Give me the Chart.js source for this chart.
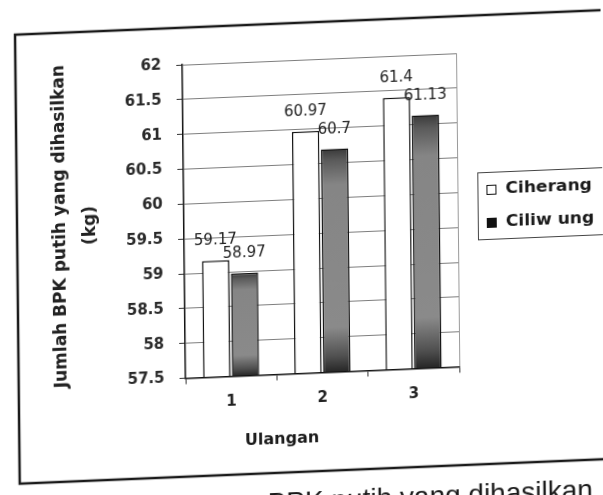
<!DOCTYPE html>
<html><head><meta charset="utf-8">
<script src="https://cdn.jsdelivr.net/npm/chart.js@4.4.1/dist/chart.umd.min.js"></script>
<style>
html,body{margin:0;padding:0;background:#fff;overflow:hidden;width:603px;height:495px;}
#wrap{position:absolute;left:0;top:0;width:603px;height:495px;transform-origin:320px 220px;transform:rotate(-0.6deg) skewY(-1.8deg);}
#c{position:absolute;left:0;top:0;}
#caption{position:absolute;right:13px;top:485px;font-family:'Liberation Sans',Arial,sans-serif;font-size:28px;color:#1a1a1a;white-space:nowrap;line-height:normal;}
</style></head><body>
<div id="wrap"><canvas id="c" width="603" height="495"></canvas><div id="caption"></div></div>
<script>
const categories = ['1', '2', '3'];
const seriesNames = ['Ciherang', 'Ciliw ung'];
const ciherang = [59.17, 60.97, 61.4];
const ciliwung = [58.97, 60.7, 61.13];
const yTicks = [57.5, 58, 58.5, 59, 59.5, 60, 60.5, 61, 61.5, 62];
const yTickLabels = ['57.5', '58', '58.5', '59', '59.5', '60', '60.5', '61', '61.5', '62'];
const yTitle = ['Jumlah BPK putih yang dihasilkan', '(kg)'];
const xTitle = 'Ulangan';
const captionText = 'BPK putih yang dihasilkan';

document.getElementById('caption').textContent = captionText;

function darkFill(ctx) {
  const chart = ctx.chart, area = chart.chartArea, y = chart.scales && chart.scales.y;
  if (!area || !y || ctx.type !== 'data') return '#707070';
  const top = y.getPixelForValue(ctx.raw), bot = y.getPixelForValue(yTicks[0]);
  if (!isFinite(top) || !isFinite(bot) || bot <= top) return '#707070';
  const g = chart.ctx.createLinearGradient(0, top, 0, bot);
  g.addColorStop(0, '#3a3a3a');
  g.addColorStop(0.05, '#5a5a5a');
  g.addColorStop(0.16, '#858585');
  g.addColorStop(0.8, '#8a8a8a');
  g.addColorStop(0.93, '#505050');
  g.addColorStop(1, '#262626');
  return g;
}

const framePlugin = {
  id: 'frame',
  beforeDraw(chart) {
    const c = chart.ctx;
    c.save();
    c.fillStyle = '#fff';
    c.fillRect(0, 0, chart.width, chart.height);
    c.strokeStyle = '#1a1a1a';
    c.lineWidth = 2.5;
    c.strokeRect(17, 22, 700, 449);
    c.restore();
  }
};

const plotBorder = {
  id: 'plotBorder',
  beforeDatasetsDraw(chart) {
    const c = chart.ctx, a = chart.chartArea;
    c.save();
    c.strokeStyle = '#9a9a9a';
    c.lineWidth = 1;
    c.beginPath();
    c.moveTo(a.right + 0.5, a.top);
    c.lineTo(a.right + 0.5, a.bottom);
    c.stroke();
    c.restore();
  }
};

const valueLabels = {
  id: 'valueLabels',
  afterDatasetsDraw(chart) {
    const c = chart.ctx;
    c.save();
    c.font = '15px "DejaVu Sans"';
    c.fillStyle = '#222';
    c.textAlign = 'center';
    c.textBaseline = 'alphabetic';
    chart.data.datasets.forEach((ds, i) => {
      chart.getDatasetMeta(i).data.forEach((bar, j) => {
        c.fillText(String(ds.data[j]), bar.x, bar.y - 16);
      });
    });
    c.restore();
  }
};

const legendSwatch = ['#ffffff', '#111111'];
const customLegend = {
  id: 'customLegend',
  afterDraw(chart) {
    const c = chart.ctx;
    c.save();
    c.strokeStyle = '#444';
    c.lineWidth = 1;
    c.strokeRect(478.5, 179.5, 150, 67);
    c.font = 'bold 15px "DejaVu Sans"';
    c.fillStyle = '#1a1a1a';
    c.textBaseline = 'middle';
    c.textAlign = 'left';
    chart.data.datasets.forEach((ds, i) => {
      const yc = 197 + i * 33;
      c.fillStyle = legendSwatch[i];
      c.fillRect(487, yc - 5, 10, 10);
      c.strokeStyle = '#111';
      c.lineWidth = 1;
      c.strokeRect(487.5, yc - 4.5, 9, 9);
      c.save();
      c.translate(506, yc);
      c.scale(1.14, 1);
      c.fillStyle = '#1a1a1a';
      c.fillText(ds.label, 0, 0);
      c.restore();
    });
    c.font = 'bold 16px "DejaVu Sans"';
    c.textAlign = 'center';
    c.fillStyle = '#1a1a1a';
    c.fillText(xTitle, 280, 438);
    c.restore();
  }
};

new Chart(document.getElementById('c'), {
  type: 'bar',
  data: {
    labels: categories,
    datasets: [
      { label: seriesNames[0], data: ciherang, backgroundColor: '#ffffff', borderColor: '#111', borderWidth: 1.5,
        base: yTicks[0], barPercentage: 0.95, categoryPercentage: 0.63 },
      { label: seriesNames[1], data: ciliwung, backgroundColor: darkFill, borderColor: '#111', borderWidth: 1.5,
        base: yTicks[0], barPercentage: 0.95, categoryPercentage: 0.63 }
    ]
  },
  options: {
    responsive: false,
    animation: false,
    devicePixelRatio: 1,
    layout: { padding: { left: 24, right: 145, top: 59, bottom: 42.5 } },
    plugins: { legend: { display: false }, tooltip: { enabled: false } },
    scales: {
      x: {
        offset: true,
        grid: { display: true, offset: true, drawOnChartArea: false, drawTicks: true, tickLength: 6, tickColor: '#333', tickWidth: 1 },
        border: { display: true, color: '#111', width: 1.5 },
        ticks: { color: '#222', font: { family: 'DejaVu Sans', size: 15, weight: 'bold' }, padding: 11, maxRotation: 0 },
        afterFit(s) { s.height = 80; }
      },
      y: {
        min: yTicks[0], max: yTicks[yTicks.length - 1],
        afterBuildTicks(s) { s.ticks = yTicks.map(v => ({ value: v })); },
        ticks: {
          callback: (v) => { const i = yTicks.indexOf(v); return i >= 0 ? yTickLabels[i] : ''; },
          color: '#2a2a2a', font: { family: 'DejaVu Sans', size: 15, weight: 'bold' }, padding: 15
        },
        grid: { color: '#7e7e7e', lineWidth: 1, drawTicks: true, tickLength: 6, tickColor: '#333' },
        border: { display: true, color: '#111', width: 1.5 },
        title: { display: true, text: yTitle, color: '#222',
          font: { family: 'DejaVu Sans', size: 17, weight: 'bold', lineHeight: 1.765 }, padding: { top: 22, bottom: 0 } },
        afterFit(s) { s.width = 160; }
      }
    }
  },
  plugins: [framePlugin, plotBorder, valueLabels, customLegend]
});
</script>
</body></html>
